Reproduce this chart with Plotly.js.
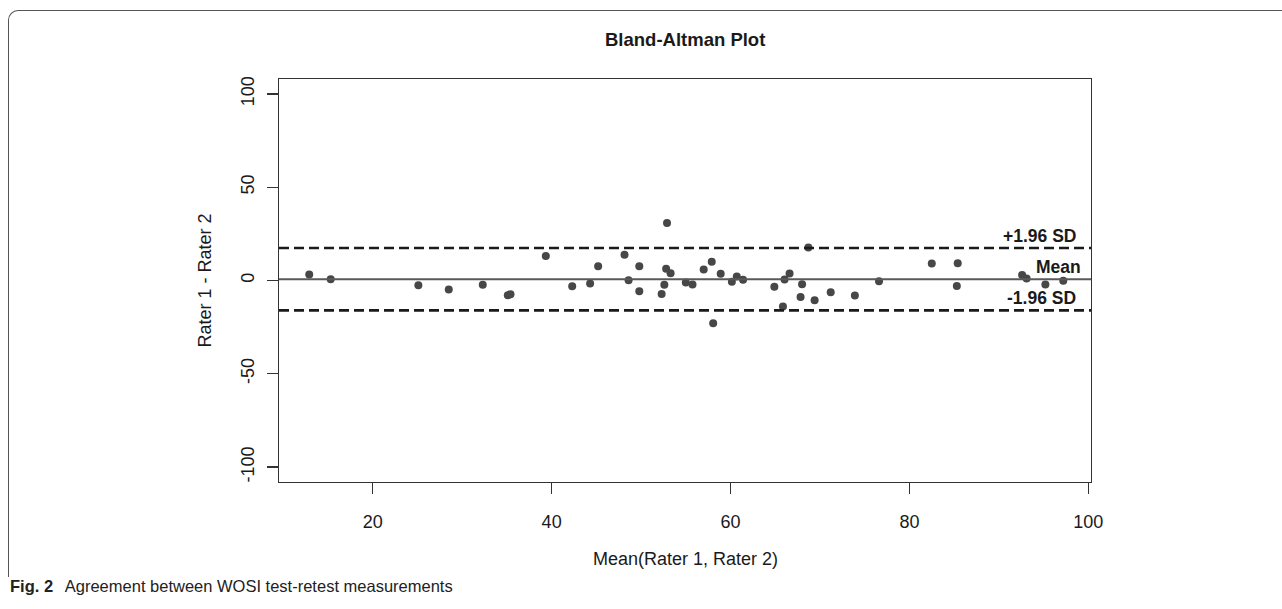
<!DOCTYPE html>
<html>
<head>
<meta charset="utf-8">
<script src="https://cdn.plot.ly/plotly-3.0.1.min.js"></script>
<style>
  html, body { margin: 0; padding: 0; background: #fff; }
  #wrap { position: relative; width: 1282px; height: 609px; overflow: hidden; }
  #frame { position: absolute; left: 8px; top: 10px; width: 1300px; height: 566px;
           border-top: 1.5px solid #555; border-left: 1.5px solid #555; border-top-left-radius: 10px; }
  #chart { position: absolute; left: 0; top: 0; width: 1282px; height: 609px; }
  #caption { position: absolute; left: 10px; top: 577px; font-family: "Liberation Sans", Arial, sans-serif;
             font-size: 16.5px; color: #222; }
  #caption b { margin-right: 8px; }
</style>
</head>
<body>
<div id="wrap">
  <div id="chart"></div>
  <div id="frame"></div>
  <div id="caption"><b>Fig. 2</b> Agreement between WOSI test-retest measurements</div>
</div>
<script>
// Mean of the two raters (x) and difference Rater 1 - Rater 2 (y)
const meanRaters = [12.9, 15.3, 25.1, 28.5, 32.3, 35.1, 35.4,
  39.35, 42.3, 44.3, 45.2, 48.15, 48.6, 49.8, 49.8, 52.3, 52.6, 52.9, 52.8, 53.3,
  55.0, 55.75, 57.0, 57.9, 58.06, 58.9, 60.15, 60.7, 61.4, 64.9, 65.86, 66.04, 66.6,
  67.83, 68.0, 68.7,
  69.4, 71.2, 73.9, 76.6, 82.5, 85.4, 85.3, 92.6, 93.1, 95.2, 97.2];
const diffRaters = [3.2, 0.7, -2.5, -4.8, -2.3, -7.9, -7.4,
  13.1, -3.1, -1.6, 7.7, 13.8, 0.2, 7.7, -5.7, -7.3, -2.3, 30.8, 6.3, 3.9,
  -1.1, -2.1, 5.9, 10.0, -22.9, 3.6, -0.7, 2.1, 0.4, -3.4, -14.0, 0.5, 3.8,
  -8.8, -2.0, 17.7,
  -10.6, -6.3, -8.1, -0.4, 9.1, 9.3, -2.9, 3.0, 1.1, -2.1, -0.2];

const meanDiff = 0.7;
const upperLoA = 17.4;
const lowerLoA = -16.0;

const xTicks = [20, 40, 60, 80, 100];
const yTicks = [-100, -50, 0, 50, 100];

const refLines = [
  {name: '+1.96 SD', value: upperLoA, dash: true},
  {name: 'Mean', value: meanDiff, dash: false},
  {name: '-1.96 SD', value: lowerLoA, dash: true}
];

const FONT = '"Liberation Sans", Arial, Helvetica, sans-serif';

const trace = {
  x: meanRaters, y: diffRaters, type: 'scatter', mode: 'markers',
  marker: {color: '#474747', size: 8},
  hoverinfo: 'x+y', showlegend: false
};

const shapes = refLines.map(l => ({
  type: 'line', xref: 'paper', x0: 0, x1: 1, yref: 'y', y0: l.value, y1: l.value,
  line: l.dash ? {color: '#1a1a1a', width: 2.6, dash: '10px,5px'} : {color: '#5a5a5a', width: 2}
}));

const annotations = refLines.map(l => ({
  text: '<b>' + l.name + '</b>', x: l.name === 'Mean' ? 99.4 : 98.8, y: l.value, xref: 'x', yref: 'y',
  xanchor: 'right', yanchor: 'middle', yshift: 12.5, showarrow: false,
  font: {family: FONT, size: 17.5, color: '#1a1a1a'}
}));
annotations.push({
  text: 'Rater 1 - Rater 2', xref: 'paper', yref: 'paper', x: (205 - 279) / 811.7, y: 0.5,
  textangle: -90, showarrow: false, xanchor: 'center', yanchor: 'middle',
  font: {family: FONT, size: 18, color: '#1a1a1a'}
});
annotations.push({
  text: 'Mean(Rater 1, Rater 2)', xref: 'paper', yref: 'paper', x: 0.5, y: (481.6 - 558) / 402.2,
  showarrow: false, xanchor: 'center', yanchor: 'middle',
  font: {family: FONT, size: 18, color: '#1a1a1a'}
});
annotations.push({
  text: '<b>Bland-Altman Plot</b>', xref: 'paper', yref: 'paper', x: 0.5, y: (481.6 - 40) / 402.2,
  showarrow: false, xanchor: 'center', yanchor: 'middle',
  font: {family: FONT, size: 18.5, color: '#1a1a1a'}
});

const layout = {
  width: 1282, height: 609,
  margin: {l: 279, r: 191.3, t: 79.4, b: 127.4, pad: 0},
  paper_bgcolor: 'rgba(0,0,0,0)', plot_bgcolor: '#fff',
  font: {family: FONT, size: 18, color: '#1a1a1a'},
  xaxis: {
    range: [9.52, 100.3], tickvals: xTicks, ticktext: xTicks.map(String),
    showgrid: false, zeroline: false, showline: true, mirror: true,
    linecolor: '#333', linewidth: 1.2, ticks: 'outside', ticklen: 11, tickcolor: '#333', tickwidth: 1.2,
    ticklabelstandoff: 12, tickfont: {family: FONT, size: 18, color: '#1a1a1a'}
  },
  yaxis: {
    range: [-108, 108], tickvals: yTicks, ticktext: yTicks.map(String), tickangle: -90,
    showgrid: false, zeroline: false, showline: true, mirror: true,
    linecolor: '#333', linewidth: 1.2, ticks: 'outside', ticklen: 11, tickcolor: '#333', tickwidth: 1.2,
    ticklabelstandoff: 6, tickfont: {family: FONT, size: 18, color: '#1a1a1a'}
  },
  shapes: shapes,
  annotations: annotations
};

Plotly.newPlot('chart', [trace], layout, {displayModeBar: false, staticPlot: true});
</script>
</body>
</html>
